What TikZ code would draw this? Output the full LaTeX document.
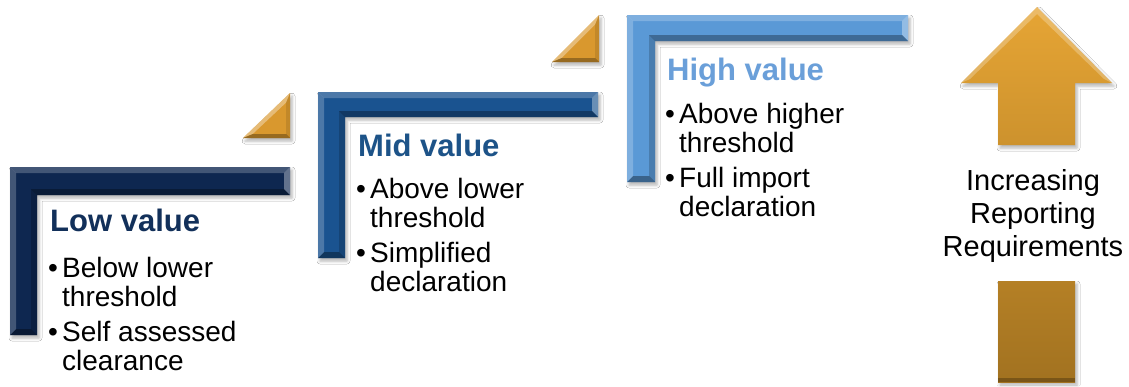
\documentclass[tikz,border=0pt]{standalone}
\usepackage{fontspec}
\setmainfont{Liberation Sans}
\usetikzlibrary{shadows.blur}

\definecolor{lowbar}{HTML}{0E2750}
\definecolor{midbar}{HTML}{1A5390}
\definecolor{highbar}{HTML}{5A99D6}
\definecolor{lowhead}{HTML}{12305A}
\definecolor{midhead}{HTML}{1D5388}
\definecolor{highhead}{HTML}{6A9FD9}
\definecolor{triorange}{HTML}{D9982E}
\definecolor{arrowtop}{HTML}{E6A535}
\definecolor{arrowbot}{HTML}{A27220}
% colours of the arrow gradient where the shaft is cut by the label
\colorlet{arrowcutA}{arrowtop!63!arrowbot}
\colorlet{arrowcutB}{arrowtop!27!arrowbot}

% L-shaped step bar with bevelled faces:
% #1 left x, #2 top y, #3 right x, #4 bar bottom y, #5 post right x, #6 bottom y, #7 colour
\newcommand\stepbracket[7]{%
  \fill[#7,barshadow] (#1,#2) -- (#3,#2) -- (#3,#4) -- (#5,#4) -- (#5,#6) -- (#1,#6) -- cycle;
  \fill[white,opacity=.22] (#1,#2) -- (#3,#2) -- ({#3-6},{#2+6}) -- ({#1+6},{#2+6}) -- cycle;
  \fill[white,opacity=.35] (#3,#2) -- (#3,#4) -- ({#3-6},{#4-6}) -- ({#3-6},{#2+6}) -- cycle;
  \fill[black,opacity=.30] (#3,#4) -- (#5,#4) -- ({#5-6},{#4-6}) -- ({#3-6},{#4-6}) -- cycle;
  \fill[black,opacity=.18] (#5,#4) -- (#5,#6) -- ({#5-6},{#6-6}) -- ({#5-6},{#4-6}) -- cycle;
  \fill[black,opacity=.35] (#5,#6) -- (#1,#6) -- ({#1+6},{#6-6}) -- ({#5-6},{#6-6}) -- cycle;
  \fill[white,opacity=.22] (#1,#6) -- (#1,#2) -- ({#1+6},{#2+6}) -- ({#1+6},{#6-6}) -- cycle;
}

% right triangle with bevel: #1 right x, #2 top y, #3 left x, #4 bottom y
\newcommand\steptriangle[4]{%
  \fill[triorange,barshadow] (#1,#2) -- (#1,#4) -- (#3,#4) -- cycle;
  \fill[white,opacity=.35] (#1,#2) -- (#3,#4) -- ({#3+9.7},{#4-4}) -- ({#1-4},{#2+9.7}) -- cycle;
  \fill[black,opacity=.30] (#3,#4) -- (#1,#4) -- ({#1-4},{#4-4}) -- ({#3+9.7},{#4-4}) -- cycle;
  \fill[black,opacity=.10] (#1,#4) -- (#1,#2) -- ({#1-4},{#2+9.7}) -- ({#1-4},{#4-4}) -- cycle;
}

% bullet list of two items, each of two lines
\newcommand\twoitems[4]{%
  \begin{tabular}[t]{@{}l@{}l@{}}
    \makebox[14pt][l]{\textbullet}&#1\\
    &#2\\[6pt]
    \makebox[14pt][l]{\textbullet}&#3\\
    &#4
  \end{tabular}}

\begin{document}
\begin{tikzpicture}[x=1pt,y=-1pt,
  barshadow/.style={blur shadow={shadow xshift=2pt,shadow yshift=-3pt,
      shadow blur radius=3pt,shadow opacity=30}},
  heading/.style={anchor=base west,inner sep=0pt,
      font=\fontsize{31}{36}\selectfont\bfseries},
  bullets/.style={anchor=base west,inner sep=0pt,
      font=\fontsize{28}{29}\selectfont},
  arrowtext/.style={align=center,inner sep=0pt,
      font=\fontsize{29}{33}\selectfont},
]
\useasboundingbox (0,0) rectangle (1129,386);
\fill[white] (0,0) rectangle (1129,386);

% step bars
\stepbracket{10}{167}{290}{195}{37}{335}{lowbar}
\stepbracket{318}{92}{598}{117}{345}{258}{midbar}
\stepbracket{627}{15}{908}{41}{655}{182}{highbar}

% risers between the steps
\steptriangle{290}{93}{243}{138}
\steptriangle{599}{15}{552}{62}

% step texts
\node[heading,text=lowhead] (lowtitle) at (50,231) {Low value};
\node[bullets] (lowlist) at (48,277)
  {\twoitems{Below lower}{threshold}{Self assessed}{clearance}};

\node[heading,text=midhead] (midtitle) at (358,156) {Mid value};
\node[bullets] (midlist) at (356,198)
  {\twoitems{Above lower}{threshold}{Simplified}{declaration}};

\node[heading,text=highhead] (hightitle) at (667,80) {High value};
\node[bullets] (highlist) at (665,123)
  {\twoitems{Above higher}{threshold}{Full import}{declaration}};

% upward arrow, its shaft interrupted by the label
\shade[barshadow,top color=arrowtop,bottom color=arrowcutA]
  (1037,7) -- (1112,83) -- (1075,83) -- (1075,145) -- (998,145)
  -- (998,83) -- (961,83) -- cycle;
\shade[barshadow,top color=arrowcutB,bottom color=arrowbot]
  (998,281) rectangle (1075,382);
\fill[white,opacity=.25] (1037,7) -- (1112,83) -- (1104,79) -- (1037,14) -- (970,79) -- (961,83) -- cycle;
\fill[black,opacity=.25] (998,378) rectangle (1075,382);

\node[arrowtext] (arrowlabel) at (1033,215.5)
  {Increasing\\Reporting\\Requirements};
\end{tikzpicture}
\end{document}
